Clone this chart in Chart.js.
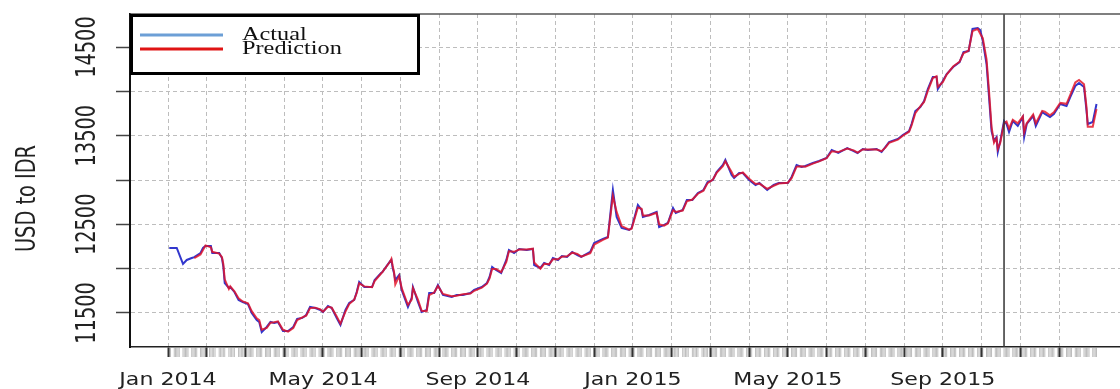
<!DOCTYPE html>
<html>
<head>
<meta charset="utf-8">
<script src="https://cdn.jsdelivr.net/npm/chart.js@4.4.1/dist/chart.umd.min.js"></script>
<style>
html, body { margin: 0; padding: 0; background: #fff; }
#wrap { width: 1120px; height: 389px; }
</style>
</head>
<body>
<div id="wrap"><canvas id="fx" width="1120" height="389"></canvas></div>
<script>
// USD/IDR daily close, one line per month
const dates = [
  '2014-01-02','2014-01-08','2014-01-13','2014-01-16','2014-01-20','2014-01-22','2014-01-27','2014-01-29','2014-01-31',
  '2014-02-04','2014-02-05','2014-02-10','2014-02-12','2014-02-13','2014-02-14','2014-02-17','2014-02-18','2014-02-21','2014-02-24','2014-02-27',
  '2014-03-03','2014-03-06','2014-03-10','2014-03-12','2014-03-14','2014-03-18','2014-03-21','2014-03-24','2014-03-27','2014-03-31',
  '2014-04-04','2014-04-08','2014-04-11','2014-04-15','2014-04-18','2014-04-21','2014-04-25','2014-04-29',
  '2014-05-01','2014-05-05','2014-05-08','2014-05-12','2014-05-15','2014-05-19','2014-05-22','2014-05-26','2014-05-28','2014-05-30',
  '2014-06-03','2014-06-09','2014-06-11','2014-06-16','2014-06-17','2014-06-23','2014-06-24','2014-06-25','2014-06-26','2014-06-27','2014-06-30',
  '2014-07-02','2014-07-07','2014-07-10','2014-07-11','2014-07-15','2014-07-18','2014-07-22','2014-07-24','2014-07-28','2014-07-31',
  '2014-08-04','2014-08-11','2014-08-15','2014-08-20','2014-08-26','2014-08-29',
  '2014-09-04','2014-09-08','2014-09-10','2014-09-12','2014-09-15','2014-09-19','2014-09-23','2014-09-25','2014-09-29',
  '2014-10-03','2014-10-09','2014-10-14','2014-10-15','2014-10-20','2014-10-23','2014-10-27','2014-10-30',
  '2014-11-03','2014-11-06','2014-11-10','2014-11-14','2014-11-18','2014-11-21','2014-11-28',
  '2014-12-01','2014-12-08','2014-12-12','2014-12-16','2014-12-19','2014-12-23','2014-12-29','2014-12-31',
  '2015-01-05','2015-01-08','2015-01-09','2015-01-14','2015-01-20','2015-01-22','2015-01-26','2015-01-29',
  '2015-02-02','2015-02-04','2015-02-09','2015-02-12','2015-02-16','2015-02-20','2015-02-24','2015-02-27',
  '2015-03-03','2015-03-06','2015-03-11','2015-03-13','2015-03-18','2015-03-20','2015-03-24','2015-03-27',
  '2015-04-01','2015-04-06','2015-04-09','2015-04-15','2015-04-20','2015-04-24',
  '2015-05-01','2015-05-04','2015-05-08','2015-05-12','2015-05-15','2015-05-21','2015-05-26',
  '2015-06-01','2015-06-05','2015-06-10','2015-06-17','2015-06-22','2015-06-25','2015-06-29',
  '2015-07-03','2015-07-10','2015-07-14','2015-07-17','2015-07-20','2015-07-27','2015-07-31',
  '2015-08-05','2015-08-07','2015-08-10','2015-08-14','2015-08-17','2015-08-20','2015-08-24','2015-08-27','2015-08-28',
  '2015-09-01','2015-09-04','2015-09-09','2015-09-14','2015-09-17','2015-09-21','2015-09-24','2015-09-28','2015-09-30',
  '2015-10-02','2015-10-05','2015-10-07','2015-10-09','2015-10-11','2015-10-13','2015-10-14','2015-10-16','2015-10-19','2015-10-21','2015-10-23','2015-10-26','2015-10-30',
  '2015-11-03','2015-11-04','2015-11-06','2015-11-11','2015-11-13','2015-11-18','2015-11-20','2015-11-24','2015-11-27',
  '2015-12-02','2015-12-07','2015-12-10','2015-12-14','2015-12-17','2015-12-21','2015-12-23','2015-12-24','2015-12-28','2015-12-31'
];

const actual = [
  12233,12233,12053,12098,12120,12130,12177,12233,12256,
  12256,12177,12177,12120,12019,11838,11782,11793,11737,11647,11624,
  11601,11500,11421,11398,11286,11342,11398,11387,11398,11297,
  11297,11342,11432,11444,11477,11568,11556,11534,
  11511,11579,11556,11444,11365,11534,11613,11647,11737,11850,
  11793,11793,11872,11951,11962,12085,12098,12008,11951,11870,11929,
  11760,11568,11669,11793,11624,11511,11534,11725,11725,11816,
  11703,11680,11703,11703,11725,11760,
  11793,11838,11906,12019,11985,11951,12098,12211,12177,
  12222,12211,12222,12041,12008,12064,12041,12120,
  12098,12143,12132,12188,12154,12132,12188,
  12290,12335,12357,12887,12583,12459,12436,12459,
  12718,12662,12583,12605,12639,12470,12493,12515,
  12684,12628,12662,12775,12775,12854,12887,12978,
  13000,13090,13169,13226,13057,13023,13079,13079,
  13000,12944,12966,12887,12944,12966,
  12966,13034,13169,13147,13158,13192,13215,
  13248,13339,13305,13361,13327,13305,13350,
  13339,13350,13316,13372,13429,13463,13508,
  13553,13632,13779,13824,13891,14027,14162,14162,14027,
  14117,14196,14275,14331,14444,14455,14704,14715,14692,
  14568,14309,13936,13553,13440,13485,13316,13440,13666,13632,13542,13666,13610,
  13711,13485,13632,13722,13610,13767,13745,13711,13745,
  13857,13835,13936,14061,14095,14050,13779,13632,13655,13857
];

const predicted = [
  null,null,null,null,null,12120,12160,12210,12262,
  12240,12190,12170,12130,12050,11880,11770,11800,11745,11665,11630,
  11610,11520,11440,11420,11310,11330,11390,11395,11405,11310,
  11290,11330,11420,11450,11470,11555,11560,11540,
  11515,11570,11560,11460,11380,11515,11600,11650,11725,11835,
  11800,11790,11860,11945,11960,12080,12110,12030,11965,11820,11915,
  11780,11590,11650,11780,11650,11525,11520,11700,11730,11805,
  11715,11690,11695,11710,11720,11750,
  11785,11830,11890,11995,11995,11960,12075,12195,12190,
  12215,12215,12225,12070,12000,12055,12050,12105,
  12105,12135,12140,12180,12165,12135,12175,
  12270,12325,12350,12820,12640,12480,12440,12450,
  12690,12675,12600,12600,12630,12500,12485,12510,
  12660,12640,12655,12760,12780,12845,12880,12965,
  13005,13080,13155,13210,13090,13035,13070,13085,
  13015,12955,12960,12900,12935,12960,
  12970,13020,13150,13155,13150,13185,13210,
  13245,13325,13315,13355,13335,13310,13345,
  13345,13345,13325,13365,13420,13455,13500,
  13545,13615,13755,13830,13880,14005,14150,14170,14050,
  14105,14190,14280,14335,14430,14460,14680,14705,14650,
  14600,14360,14000,13600,13420,13470,13350,13420,13640,13660,13580,13680,13640,
  13720,13540,13640,13740,13640,13780,13770,13730,13765,
  13870,13860,13960,14100,14128,14080,13820,13600,13600,13800
];

const seriesNames = ['Actual', 'Prediction'];
const yTickValues = [11500, 12000, 12500, 13000, 13500, 14000, 14500];
const yLabelValues = [11500, 12500, 13500, 14500];
const xLabelDates = ['2014-01-01', '2014-05-01', '2014-09-01', '2015-01-01', '2015-05-01', '2015-09-01'];
const xLabelTexts = ['Jan 2014', 'May 2014', 'Sep 2014', 'Jan 2015', 'May 2015', 'Sep 2015'];
const splitDate = '2015-10-19';

const lineColors = ['rgb(50,55,205)', 'rgba(228,18,38,0.82)'];
const keyColors = ['#6c9fd6', '#e01414'];

// months since Jan 2014, fractional within the month
function monthPos(s) {
  const [y, m, d] = s.split('-').map(Number);
  const dim = new Date(y, m, 0).getDate();
  return (y - 2014) * 12 + (m - 1) + (d - 1) / dim;
}

function toPoints(vals) {
  return dates.map((d, i) => ({ x: monthPos(d), y: vals[i] })).filter(p => p.y !== null);
}

function iso(d) {
  const p = n => String(n).padStart(2, '0');
  return d.getFullYear() + '-' + p(d.getMonth() + 1) + '-' + p(d.getDate());
}

// one grid line at the start of every month in the data
function monthStarts() {
  const out = [];
  const last = Math.floor(monthPos(dates[dates.length - 1]));
  for (let m = 0; m <= last; m++) out.push(m);
  return out;
}

// narrow fonts may be missing, squeeze the glyphs instead
function squeeze(ctx, size) {
  const w = ctx.measureText('0').width;
  return Math.min(1, 0.456 * size / w);
}

const decor = {
  id: 'decor',
  beforeDraw(chart) {
    // rug of trading days under the axis
    const { ctx, chartArea: a, scales: { x } } = chart;
    ctx.save();
    ctx.strokeStyle = '#bdbdbd';
    ctx.lineWidth = 1;
    ctx.beginPath();
    const end = new Date(dates[dates.length - 1] + 'T00:00:00');
    for (let d = new Date(dates[0] + 'T00:00:00'); d <= end; d.setDate(d.getDate() + 1)) {
      const wd = d.getDay();
      if (wd === 0 || wd === 6) continue;
      const px = x.getPixelForValue(monthPos(iso(d)));
      ctx.moveTo(px, a.bottom + 1);
      ctx.lineTo(px, a.bottom + 10);
    }
    ctx.stroke();
    ctx.restore();
  },
  afterDatasetsDraw(chart) {
    const { ctx, chartArea: a, scales: { x } } = chart;
    const px = x.getPixelForValue(monthPos(splitDate));
    ctx.save();
    ctx.strokeStyle = '#333';
    ctx.lineWidth = 1.5;
    ctx.beginPath();
    ctx.moveTo(px, a.top);
    ctx.lineTo(px, a.bottom);
    ctx.stroke();
    ctx.restore();
  },
  afterDraw(chart) {
    const { ctx, chartArea: a, scales: { x, y } } = chart;
    ctx.save();

    // top frame line
    ctx.strokeStyle = '#555';
    ctx.lineWidth = 1.5;
    ctx.beginPath();
    ctx.moveTo(a.left, a.top);
    ctx.lineTo(a.right, a.top);
    ctx.stroke();

    // rotated y tick labels
    ctx.fillStyle = '#222';
    ctx.font = '27px "Liberation Sans Narrow", "DejaVu Sans Condensed", sans-serif';
    const sq = squeeze(ctx, 27);
    ctx.textAlign = 'center';
    ctx.textBaseline = 'alphabetic';
    yLabelValues.forEach(v => {
      ctx.save();
      ctx.translate(95, y.getPixelForValue(v));
      ctx.rotate(-Math.PI / 2);
      ctx.scale(sq, 1);
      ctx.fillText(String(v), 0, 0);
      ctx.restore();
    });

    // y axis title
    ctx.save();
    ctx.translate(35, (a.top + a.bottom) / 2 + 18);
    ctx.rotate(-Math.PI / 2);
    ctx.scale(sq, 1);
    ctx.fillText('USD to IDR', 0, 0);
    ctx.restore();

    // month labels under the rug
    ctx.font = '17px "DejaVu Sans", Verdana, sans-serif';
    xLabelDates.forEach((d, i) => {
      ctx.save();
      ctx.translate(x.getPixelForValue(monthPos(d)), 385);
      ctx.scale(1.3, 1);
      ctx.fillText(xLabelTexts[i], 0, 0);
      ctx.restore();
    });

    // legend box
    const bx = a.left, by = a.top, bw = 290, bh = 61;
    ctx.fillStyle = '#fff';
    ctx.fillRect(bx, by, bw, bh);
    ctx.strokeStyle = '#000';
    ctx.lineWidth = 3;
    ctx.strokeRect(bx + 1.5, by + 1.5, bw - 3, bh - 3);
    ctx.font = '18px "Liberation Serif", "Times New Roman", serif';
    ctx.textAlign = 'left';
    chart.data.datasets.forEach((ds, i) => {
      const ly = by + 21 + i * 14;
      ctx.strokeStyle = keyColors[i];
      ctx.lineWidth = 3;
      ctx.beginPath();
      ctx.moveTo(bx + 10, ly);
      ctx.lineTo(bx + 93, ly);
      ctx.stroke();
      ctx.save();
      ctx.translate(bx + 112, ly + 5);
      ctx.scale(1.35, 1);
      ctx.fillStyle = '#111';
      ctx.fillText(ds.label, 0, 0);
      ctx.restore();
    });

    ctx.restore();
  }
};

const dashGrid = { color: '#bdbdbd', lineWidth: 1 };

new Chart(document.getElementById('fx').getContext('2d'), {
  type: 'line',
  data: {
    datasets: [
      { label: seriesNames[0], data: toPoints(actual), borderColor: lineColors[0], borderWidth: 2,
        pointRadius: 0, tension: 0, order: 2 },
      { label: seriesNames[1], data: toPoints(predicted), borderColor: lineColors[1], borderWidth: 2,
        pointRadius: 0, tension: 0, order: 1 }
    ]
  },
  options: {
    responsive: false,
    animation: false,
    devicePixelRatio: 1,
    layout: { padding: { top: 14, left: 0, right: 0, bottom: 0 } },
    plugins: { legend: { display: false }, tooltip: { enabled: false } },
    scales: {
      x: {
        type: 'linear',
        min: -0.981,
        max: 24.574,
        ticks: { display: false },
        afterBuildTicks(s) {
          s.ticks = monthStarts().map(v => ({ value: v }));
        },
        grid: { ...dashGrid, tickLength: 10, tickColor: '#333', tickWidth: 2 },
        border: { display: true, color: '#222', width: 1.5, dash: [4, 3] },
        afterFit(s) { s.height = 42; }
      },
      y: {
        type: 'linear',
        min: 11116,
        max: 14873,
        ticks: { display: false },
        afterBuildTicks(s) {
          s.ticks = yTickValues.map(v => ({ value: v }));
        },
        grid: { ...dashGrid, tickLength: 14, tickColor: '#444', tickWidth: 1.5 },
        border: { display: true, color: '#111', width: 2, dash: [4, 3] },
        afterFit(s) { s.width = 130; }
      }
    }
  },
  plugins: [decor]
});
</script>
</body>
</html>
